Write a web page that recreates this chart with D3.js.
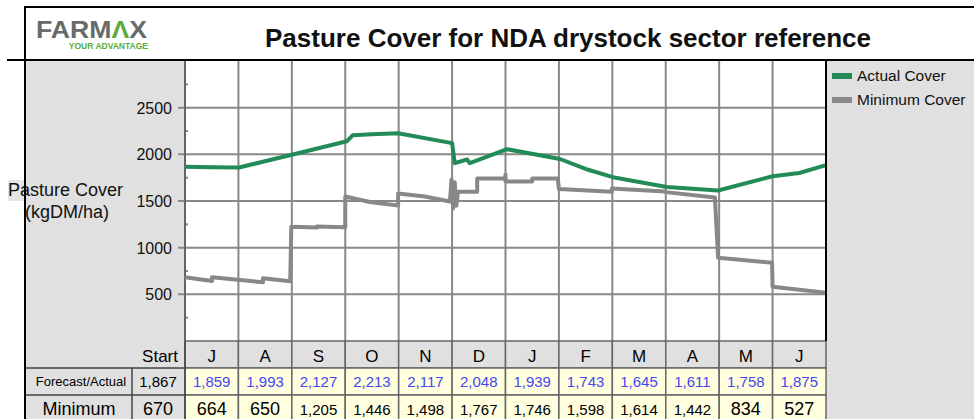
<html>
<head>
<style>
  body { margin: 0; background: #fff; }
  text { font-family: "Liberation Sans", Arial, sans-serif; }
</style>
<script src="https://cdn.jsdelivr.net/npm/d3@7"></script>
</head>
<body>
<svg id="chart" width="974" height="419"></svg>
<script>
// month columns and table rows
const months = ["J", "A", "S", "O", "N", "D", "J", "F", "M", "A", "M", "J"]
const startForecast = 1867
const startMinimum = 670
const forecastVals = [1859, 1993, 2127, 2213, 2117, 2048, 1939, 1743, 1645, 1611, 1758, 1875]
const minimumVals = [664, 650, 1205, 1446, 1498, 1767, 1746, 1598, 1614, 1442, 834, 527]

// line series, x is months since 1 July
const actualMonth = [0, 0.5, 1.01, 2.0, 3.03, 3.14, 3.5, 3.99, 5.0, 5.05, 5.28, 5.33, 6.03, 7.02, 7.5, 8.01, 9.02, 9.98, 11.0, 11.5, 12]
const actualCover = [1867, 1862, 1859, 1995, 2140, 2205, 2215, 2225, 2120, 1905, 1945, 1905, 2055, 1950, 1843, 1755, 1651, 1612, 1765, 1800, 1885]

const minMonth = [0, 0.505, 0.505, 1.46, 1.46, 1.97, 1.99, 2.47, 2.47, 3.0, 3.0, 3.46, 3.99, 3.99, 4.49, 4.96, 4.99, 5.02, 5.05, 5.08, 5.11, 5.47, 5.47, 5.99, 6.0, 6.0, 6.5, 6.5, 6.98, 7.0, 7.99, 7.99, 8.99, 9.0, 9.92, 9.98, 10.99, 11.0, 12]
const minCover = [683, 643, 683, 629, 672, 640, 1225, 1215, 1228, 1220, 1548, 1490, 1452, 1580, 1548, 1495, 1730, 1420, 1700, 1450, 1600, 1600, 1742, 1742, 1785, 1710, 1710, 1742, 1742, 1629, 1600, 1634, 1602, 1595, 1538, 892, 839, 581, 516]

const yTicks = [500, 1000, 1500, 2000, 2500]

const svg = d3.select("#chart")
const pLeft = 185, pRight = 826, pTop = 61, pBottom = 341
const rowH = 27

let x = d3.scaleLinear().domain([0, 12]).range([pLeft, pRight])
let y = d3.scaleLinear().domain([0, 3000]).range([pBottom, pTop])
let gray = "#e0e0e0"

// backgrounds
svg.append("rect").attr("x", 25).attr("y", 60).attr("width", 949).attr("height", 359).attr("fill", gray)
svg.append("rect").attr("x", pLeft).attr("y", pTop).attr("width", pRight - pLeft).attr("height", pBottom - pTop).attr("fill", "#fff")
svg.append("rect").attr("x", 8).attr("y", 180).attr("width", 17).attr("height", 21).attr("fill", "#e6e6e6")

// gridlines
let grid = svg.append("g").attr("stroke", "#888").attr("stroke-width", 2)
grid.selectAll(".hg").data(yTicks).enter().append("line")
    .attr("x1", pLeft - 7).attr("x2", pRight)
    .attr("y1", d => y(d)).attr("y2", d => y(d))
grid.selectAll(".vg").data(d3.range(1, 12)).enter().append("line")
    .attr("x1", d => x(d)).attr("x2", d => x(d))
    .attr("y1", pTop).attr("y2", pBottom)
// minor ticks
grid.selectAll(".mt").data(d3.range(250, 3000, 500)).enter().append("line")
    .attr("x1", pLeft).attr("x2", pLeft + 3)
    .attr("y1", d => y(d)).attr("y2", d => y(d))

svg.append("line").attr("x1", pLeft).attr("x2", pLeft).attr("y1", pTop).attr("y2", pBottom)
    .attr("stroke", "#666").attr("stroke-width", 2)

svg.selectAll(".yl").data(yTicks).enter().append("text")
    .attr("x", 172).attr("y", d => y(d) + 6)
    .attr("text-anchor", "end").attr("font-size", 16).attr("fill", "#111")
    .text(d => d)

svg.append("text").attr("x", 8).attr("y", 196).attr("font-size", 18).attr("fill", "#111").text("Pasture Cover")
svg.append("text").attr("x", 67).attr("y", 218).attr("font-size", 18).attr("fill", "#111")
    .attr("text-anchor", "middle").text("(kgDM/ha)")

// lines
let line = d3.line().x(d => x(d[0])).y(d => y(d[1]))
svg.append("path").datum(d3.zip(minMonth, minCover))
    .attr("d", line).attr("fill", "none").attr("stroke", "#888")
    .attr("stroke-width", 4).attr("stroke-linejoin", "round")
svg.append("path").datum(d3.zip(actualMonth, actualCover))
    .attr("d", line).attr("fill", "none").attr("stroke", "#238b57")
    .attr("stroke-width", 4).attr("stroke-linejoin", "round")

// table
let table = svg.append("g")
let cellW = x(1) - x(0)
table.selectAll(".hc").data(months).enter().append("rect")
    .attr("x", (d, i) => x(i)).attr("y", pBottom).attr("width", cellW).attr("height", rowH)
    .attr("fill", gray).attr("stroke", "#666").attr("stroke-width", 1.5)
table.selectAll(".fc").data(forecastVals).enter().append("rect")
    .attr("x", (d, i) => x(i)).attr("y", pBottom + rowH).attr("width", cellW).attr("height", rowH)
    .attr("fill", "#ffffe0").attr("stroke", "#666").attr("stroke-width", 1.5)
table.selectAll(".mc").data(minimumVals).enter().append("rect")
    .attr("x", (d, i) => x(i)).attr("y", pBottom + 2 * rowH).attr("width", cellW).attr("height", rowH + 5)
    .attr("fill", "#ffffe0").attr("stroke", "#666").attr("stroke-width", 1.5)

let tl = table.append("g").attr("stroke", "#444").attr("stroke-width", 1.5)
tl.append("line").attr("x1", 25).attr("x2", pLeft).attr("y1", pBottom + rowH).attr("y2", pBottom + rowH)
tl.append("line").attr("x1", 25).attr("x2", pLeft).attr("y1", pBottom + 2 * rowH).attr("y2", pBottom + 2 * rowH)
tl.append("line").attr("x1", 132).attr("x2", 132).attr("y1", pBottom + rowH).attr("y2", 419)
tl.append("line").attr("x1", pLeft).attr("x2", pLeft).attr("y1", pBottom).attr("y2", 419)

let fmt = d3.format(",")
table.selectAll(".ht").data(months).enter().append("text")
    .attr("x", (d, i) => x(i + 0.5)).attr("y", pBottom + 21)
    .attr("text-anchor", "middle").attr("font-size", 17).text(d => d)
table.selectAll(".ft").data(forecastVals).enter().append("text")
    .attr("x", (d, i) => x(i + 0.5)).attr("y", pBottom + rowH + 19)
    .attr("text-anchor", "middle").attr("font-size", 15).attr("fill", "#4646f0").text(d => fmt(d))
table.selectAll(".mt").data(minimumVals).enter().append("text")
    .attr("x", (d, i) => x(i + 0.5)).attr("y", pBottom + 2 * rowH + 20)
    .attr("text-anchor", "middle").attr("font-size", d => d >= 1000 ? 15 : 18).text(d => fmt(d))

table.append("text").attr("x", 178).attr("y", pBottom + 21).attr("text-anchor", "end").attr("font-size", 17).text("Start")
table.append("text").attr("x", 81).attr("y", pBottom + rowH + 18).attr("text-anchor", "middle").attr("font-size", 13).text("Forecast/Actual")
table.append("text").attr("x", 158).attr("y", pBottom + rowH + 19).attr("text-anchor", "middle").attr("font-size", 15).text(fmt(startForecast))
table.append("text").attr("x", 79).attr("y", pBottom + 2 * rowH + 20).attr("text-anchor", "middle").attr("font-size", 18).text("Minimum")
table.append("text").attr("x", 158).attr("y", pBottom + 2 * rowH + 20).attr("text-anchor", "middle").attr("font-size", 18).text(startMinimum)

// frame
svg.append("line").attr("x1", 25).attr("x2", 974).attr("y1", 7).attr("y2", 7).attr("stroke", "#000").attr("stroke-width", 2)
svg.append("line").attr("x1", 7).attr("x2", 974).attr("y1", 60).attr("y2", 60).attr("stroke", "#000").attr("stroke-width", 2)
svg.append("line").attr("x1", 25).attr("x2", 25).attr("y1", 6).attr("y2", 419).attr("stroke", "#000").attr("stroke-width", 2)
svg.append("line").attr("x1", pRight).attr("x2", pRight).attr("y1", 60).attr("y2", pBottom).attr("stroke", "#000").attr("stroke-width", 2)

// legend
let legend = [["Actual Cover", "#238b57"], ["Minimum Cover", "#888"]]
let lg = svg.selectAll(".lg").data(legend).enter().append("g")
    .attr("transform", (d, i) => "translate(832," + (76 + i * 24) + ")")
lg.append("rect").attr("x", 0).attr("y", -3).attr("width", 20).attr("height", 6).attr("fill", d => d[1])
lg.append("text").attr("x", 25).attr("y", 5).attr("font-size", 15.5).attr("fill", "#111").text(d => d[0])

// logo + title
let logo = svg.append("text").attr("x", 36).attr("y", 38).attr("font-size", 24).attr("font-weight", "bold")
    .attr("fill", "#666b6b").attr("textLength", 111).attr("lengthAdjust", "spacingAndGlyphs")
logo.append("tspan").text("FARM")
logo.append("tspan").attr("fill", "#5aab3c").text("\u039B")
logo.append("tspan").text("X")
svg.append("text").attr("x", 148).attr("y", 49).attr("text-anchor", "end").attr("font-size", 8.5)
    .attr("font-weight", "bold").attr("fill", "#5aab3c").text("YOUR ADVANTAGE")

svg.append("text").attr("x", 568).attr("y", 47).attr("text-anchor", "middle")
    .attr("font-size", 26).attr("font-weight", "bold").attr("fill", "#111")
    .text("Pasture Cover for NDA drystock sector reference")
</script>
</body>
</html>
